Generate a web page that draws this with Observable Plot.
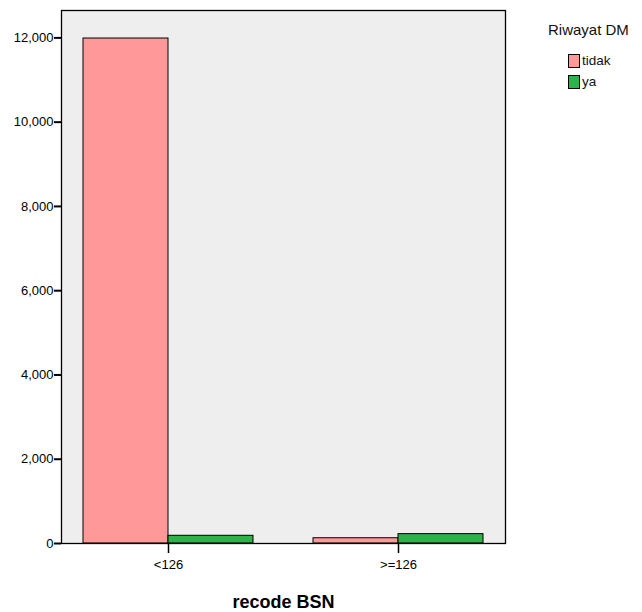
<!DOCTYPE html>
<html>
<head>
<meta charset="utf-8">
<script src="https://cdn.jsdelivr.net/npm/d3@7"></script>
<script src="https://cdn.jsdelivr.net/npm/@observablehq/plot@0.6"></script>
<style>
  body { margin: 0; background: #fff; font-family: "Liberation Sans", Arial, sans-serif; }
  #wrap { position: relative; width: 642px; height: 612px; }
  #legend { position: absolute; left: 548px; top: 20px; color: #111; }
  #legend .title { font-size: 15px; line-height: 20px; margin-bottom: 13px; }
  #legend .row { position: relative; height: 21px; margin-left: 20px; font-size: 13.5px; }
  #legend .sw { position: absolute; left: 0; top: 1px; width: 10px; height: 12px; border: 1px solid #000; }
  #legend .lab { position: absolute; left: 14px; top: 0px; line-height: 16px; }
</style>
</head>
<body>
<div id="wrap"><div id="chart"></div><div id="legend"></div></div>
<script>
const categories = ["<126", ">=126"];
const series = ["tidak", "ya"];
const tidakValues = [11985, 125];
const yaValues = [183, 222];
const yTicks = [0, 2000, 4000, 6000, 8000, 10000, 12000];
const colors = ["#FF9999", "#2EB34B"];
const legendTitle = "Riwayat DM";
const xTitle = "recode BSN";

const data = [];
categories.forEach((c, i) => {
  data.push({cat: c, series: "tidak", value: tidakValues[i]});
  data.push({cat: c, series: "ya", value: yaValues[i]});
});

const chart = Plot.plot({
  width: 642,
  height: 612,
  marginLeft: 61,
  marginRight: 137,
  marginTop: 10,
  marginBottom: 69,
  style: {fontFamily: "Liberation Sans, Arial, sans-serif", fontSize: "13px", color: "#000", background: "#fff"},
  fx: {domain: categories, paddingInner: 0.0696, paddingOuter: 0, label: null},
  x: {domain: series, paddingInner: 0, paddingOuter: 0.2588, axis: null},
  y: {domain: [0, 12650], label: null},
  color: {domain: series, range: colors},
  marks: [
    Plot.frame({fill: "#EEEEEE", stroke: "none", facet: "super"}),
    Plot.barY(data, {fx: "cat", x: "series", y: "value", fill: "series", stroke: "#000", strokeWidth: 1}),
    Plot.frame({stroke: "#000", strokeWidth: 1.3, facet: "super"}),
    Plot.axisY({ticks: yTicks, tickFormat: d3.format(","), tickSize: 7, tickPadding: 1, strokeWidth: 2, fontSize: 13, label: null}),
    Plot.axisFx({anchor: "bottom", tickSize: 10, tickPadding: 6, strokeWidth: 1.5, fontSize: 13, label: null}),
    Plot.text([xTitle], {frameAnchor: "bottom", dy: 64, fontSize: 18, fontWeight: "bold", fill: "#000", facet: "super"})
  ]
});
document.getElementById("chart").appendChild(chart);

const legend = document.getElementById("legend");
legend.innerHTML = `<div class="title">${legendTitle}</div>` +
  series.map((s, i) => `<div class="row"><div class="sw" style="background:${colors[i]}"></div><span class="lab">${s}</span></div>`).join("");
</script>
</body>
</html>
